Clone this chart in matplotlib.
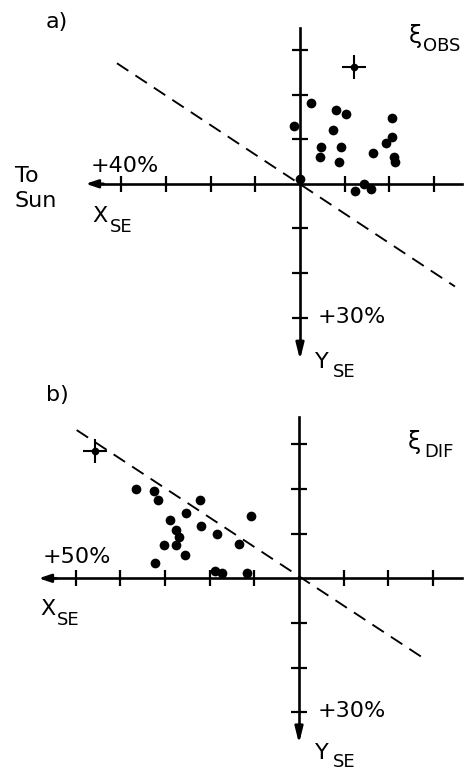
import matplotlib
matplotlib.use("Agg")
import matplotlib.pyplot as plt

# percent values; X_SE positive toward the Sun (left), Y_SE positive down
obs_x = [1.3, -2.5, -8.0, -10.2, -7.4, -4.8, -4.5, -9.1, -8.8, -16.4, -19.2, -20.7, -20.7, -21.1, -21.2, 0.0, -14.3, -12.3, -16.0]
obs_y = [-13.0, -18.0, -16.5, -15.6, -12.1, -8.2, -6.1, -8.3, -4.8, -7.0, -9.2, -10.4, -14.8, -6.0, -4.8, -1.1, 0.0, 1.6, 1.1]
obs_mean = (-12.2, -26.2)
obs_dash_x = [41.0, -34.7]
obs_dash_y = [-27.0, 23.0]

dif_x = [36.5, 32.5, 31.5, 22.2, 25.4, 28.9, 10.8, 22.0, 27.6, 26.8, 18.3, 30.3, 27.6, 13.4, 25.6, 32.2, 18.8, 17.3, 11.6]
dif_y = [-20.0, -19.6, -17.6, -17.6, -14.6, -13.1, -14.0, -11.8, -10.8, -9.3, -9.9, -7.5, -7.5, -7.6, -5.2, -3.5, -1.7, -1.1, -1.1]
dif_mean = (45.6, -28.6)
dif_dash_x = [49.8, -28.5]
dif_dash_y = [-33.2, 18.3]

W, H = 471, 772
PX = 4.465  # pixels per percent

fig = plt.figure(figsize=(W / 100, H / 100), dpi=100)


def put(px, py, s, size=16):
    fig.text(px / W, 1 - py / H, s, fontsize=size, va='baseline', ha='left',
             family='DejaVu Sans')


def panel(rect, ox, oy, top, xt, xends, yends):
    ax = fig.add_axes(rect)
    ax.set_xlim(ox / PX, (ox - W) / PX)
    ax.set_ylim((top + H / 2 - oy) / PX, (top - oy) / PX)
    for s in ('top', 'right'):
        ax.spines[s].set_visible(False)
    ax.spines['left'].set_position('zero')
    ax.spines['bottom'].set_position('zero')
    ax.spines['bottom'].set_bounds(xends[0], xends[1] - 2)
    ax.spines['left'].set_bounds(yends[0], yends[1] - 2)
    for s in ('left', 'bottom'):
        ax.spines[s].set_linewidth(1.9)
    ax.set_xticks(xt)
    ax.set_yticks([-30, -20, -10, 10, 20, 30])
    ax.tick_params(direction='inout', length=12, width=1.6,
                   labelbottom=False, labelleft=False)
    ax.patch.set_alpha(0)
    ax.annotate('', xy=(xends[1], 0), xytext=(xends[1] - 4, 0),
                arrowprops=dict(arrowstyle='-|>,head_length=0.6,head_width=0.2',
                                mutation_scale=12, color='k', lw=1.9,
                                shrinkA=0, shrinkB=0))
    ax.annotate('', xy=(0, yends[1]), xytext=(0, yends[1] - 4),
                arrowprops=dict(arrowstyle='-|>,head_length=0.8,head_width=0.2',
                                mutation_scale=12, color='k', lw=1.9,
                                shrinkA=0, shrinkB=0))
    return ax


def points(ax, xs, ys, mean, dx, dy):
    ax.plot(dx, dy, color='k', lw=1.35, dashes=(7.3, 4.5))
    ax.plot(xs, ys, 'o', color='k', ms=7.0, mec='none')
    ax.plot(mean[0], mean[1], '+', color='k', ms=17, mew=1.5)
    ax.plot(mean[0], mean[1], 'o', color='k', ms=5.5, mec='none')


# a) observed
ax_a = panel([0, 0.5, 1, 0.5], 300, 183.8, 0,
             [-30, -20, -10, 10, 20, 30, 40], (-36.2, 48.0), (-35.0, 39.4))
points(ax_a, obs_x, obs_y, obs_mean, obs_dash_x, obs_dash_y)

# b) difference
ax_b = panel([0, 0, 1, 0.5], 299, 578.3, 386,
             [-30, -20, -10, 10, 20, 30, 40, 50], (-36.6, 58.3), (-36.1, 37.0))
points(ax_b, dif_x, dif_y, dif_mean, dif_dash_x, dif_dash_y)

put(46, 28, 'a)')
put(409, 43, '\u03be', 17)
put(423, 51, 'OBS', 13)
put(91, 172.5, '+40%')
put(15, 182, 'To')
put(15, 207, 'Sun')
put(92, 222, 'X')
put(110, 232, 'SE', 13)
put(318, 323, '+30%')
put(315, 368, 'Y')
put(333, 377, 'SE', 13)

put(46, 401, 'b)')
put(408, 449, '\u03be', 17)
put(424, 457, 'DIF', 13)
put(43, 563, '+50%')
put(40, 615, 'X')
put(57, 625, 'SE', 13)
put(318, 717, '+30%')
put(315, 759, 'Y')
put(333, 767, 'SE', 13)

fig.savefig('out.png', dpi=100)
